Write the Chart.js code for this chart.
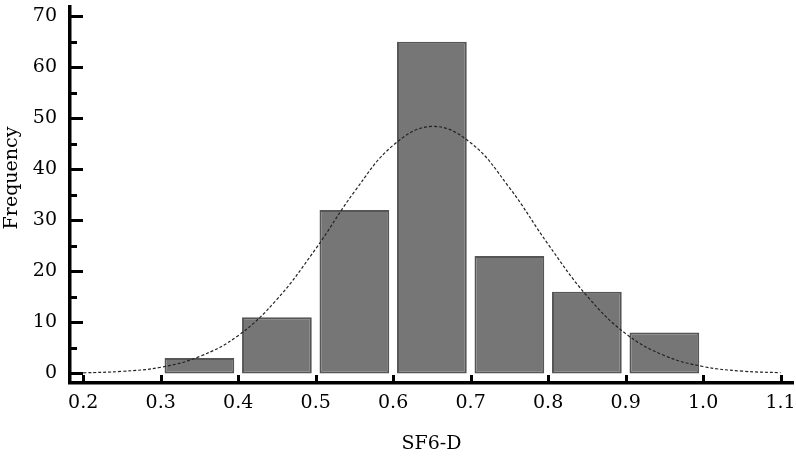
<!DOCTYPE html>
<html>
<head>
<meta charset="utf-8">
<script src="https://cdn.jsdelivr.net/npm/chart.js@4/dist/chart.umd.min.js"></script>
<style>
  html, body { margin: 0; padding: 0; background: #fff; }
  #wrap { width: 796px; height: 468px; }
</style>
</head>
<body>
<div id="wrap"><canvas id="hist"></canvas></div>
<script>
// histogram bins (centres) and counts
const binCenters = [0.35, 0.45, 0.55, 0.65, 0.75, 0.85, 0.95];
const frequencies = [3, 11, 32, 65, 23, 16, 8];

// fitted normal curve
const curveX = [0.20, 0.25, 0.30, 0.35, 0.40, 0.45, 0.50, 0.55, 0.60, 0.65,
                0.70, 0.75, 0.80, 0.85, 0.90, 0.95, 1.00, 1.05, 1.10];
const curveY = [0.1, 0.4, 1.2, 3.3, 7.4, 14.5, 24.4, 35.6, 44.7, 48.4,
                45.2, 36.4, 25.3, 15.2, 7.8, 3.5, 1.35, 0.45, 0.13];

const xTickLabels = ['0.2', '0.3', '0.4', '0.5', '0.6', '0.7', '0.8', '0.9', '1.0', '1.1'];
const yTickLabels = ['0', '10', '20', '30', '40', '50', '60', '70'];

const FONT = 'DejaVu Serif';

// inward tick marks + rotated y title
const axisDecor = {
    id: 'axisDecor',
    afterDraw(chart) {
        const ctx = chart.ctx;
        const xs = chart.scales.x, ys = chart.scales.y;
        const base = chart.chartArea.bottom;
        ctx.save();
        ctx.setLineDash([]);
        ctx.strokeStyle = '#000';
        ctx.lineWidth = 3;
        ctx.lineCap = 'butt';
        xs.ticks.forEach(t => {
            const px = Math.round(xs.getPixelForValue(t.value)) + 0.5;
            ctx.beginPath();
            ctx.moveTo(px, base);
            ctx.lineTo(px, base - 8);
            ctx.stroke();
        });
        ys.ticks.forEach(t => {
            const py = Math.round(ys.getPixelForValue(t.value)) + 0.5;
            const len = t.value % 10 === 0 ? 13 : 7;
            ctx.beginPath();
            ctx.moveTo(ys.right, py);
            ctx.lineTo(ys.right + len, py);
            ctx.stroke();
        });
        ctx.fillStyle = '#000';
        ctx.font = '19px "' + FONT + '"';
        ctx.textAlign = 'center';
        ctx.textBaseline = 'middle';
        ctx.translate(12, 178);
        ctx.rotate(-Math.PI / 2);
        ctx.fillText('Frequency', 0, 0);
        ctx.restore();
    }
};

new Chart(document.getElementById('hist'), {
    data: {
        datasets: [
            {
                type: 'line',
                data: curveX.map((x, i) => ({ x: x, y: curveY[i] })),
                borderColor: '#222',
                borderWidth: 1.2,
                borderDash: [3, 2],
                pointRadius: 0,
                tension: 0.4,
                fill: false,
                order: 0
            },
            {
                type: 'bar',
                data: binCenters.map((x, i) => ({ x: x, y: frequencies[i] })),
                backgroundColor: '#767676',
                borderColor: '#565656',
                borderWidth: 2,
                borderSkipped: false,
                barPercentage: 0.9,
                categoryPercentage: 1,
                order: 1
            }
        ]
    },
    options: {
        responsive: true,
        maintainAspectRatio: false,
        animation: false,
        layout: { padding: { top: 7, right: 3, left: 0, bottom: 0 } },
        plugins: { legend: { display: false }, tooltip: { enabled: false } },
        scales: {
            x: {
                type: 'linear',
                offset: false,
                min: 0.183,
                max: 1.116,
                afterFit: s => { s.height = 85; s.paddingLeft = 0; s.paddingRight = 0; },
                grid: { display: false, drawTicks: false, offset: false },
                border: { display: true, color: '#000', width: 3.5 },
                ticks: {
                    stepSize: 0.1,
                    includeBounds: false,
                    autoSkip: false,
                    maxRotation: 0,
                    padding: 9,
                    color: '#000',
                    font: { family: FONT, size: 19 },
                    callback: v => {
                        const s = Number(v).toFixed(1);
                        return xTickLabels.includes(s) ? s : '';
                    }
                },
                title: {
                    display: true,
                    text: 'SF6-D',
                    color: '#000',
                    font: { family: FONT, size: 19 },
                    padding: { top: 0, bottom: 13 }
                }
            },
            y: {
                min: -1.88,
                max: 71.8,
                afterFit: s => { s.width = 70; s.paddingTop = 0; s.paddingBottom = 0; },
                grid: { display: false, drawTicks: false },
                border: { display: true, color: '#000', width: 3.5 },
                ticks: {
                    stepSize: 5,
                    includeBounds: false,
                    autoSkip: false,
                    padding: 13,
                    color: '#000',
                    font: { family: FONT, size: 19 },
                    callback: v => {
                        const s = String(Math.round(v));
                        return (Math.round(v) % 10 === 0 && yTickLabels.includes(s)) ? s : '';
                    }
                }
            }
        }
    },
    plugins: [axisDecor]
});
</script>
</body>
</html>
